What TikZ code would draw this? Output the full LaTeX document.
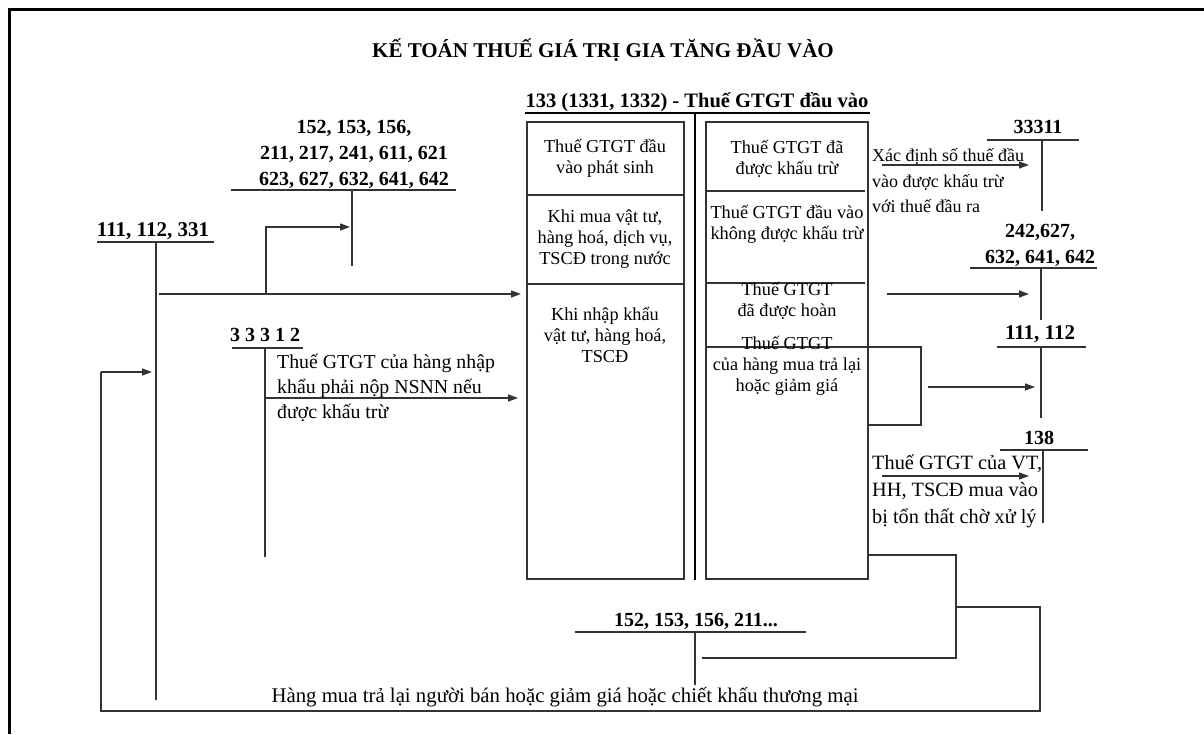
\documentclass[tikz,border=0pt]{standalone}
\usepackage{fontspec}
\setmainfont{Liberation Serif}
\usetikzlibrary{arrows.meta}
\begin{document}
\begin{tikzpicture}[x=1pt,y=-1pt,
  ln/.style={line width=1.3pt,draw=black!80},
  thick3/.style={line width=2.8pt,draw=black},
  arr/.style={ln,-{Triangle[length=10pt,width=7pt]}},
  acc/.style={font=\fontsize{20}{26}\selectfont\bfseries,inner sep=0pt,align=center},
  ttl/.style={font=\fontsize{21}{24}\selectfont\bfseries,inner sep=0pt},
  note/.style={font=\fontsize{18}{25.5}\selectfont,inner sep=0pt,align=left,anchor=west},
  btxt/.style={font=\fontsize{18.3}{21}\selectfont,inner sep=0pt,align=center}]
\useasboundingbox (0,0) rectangle (1204,734);
\fill[white] (0,0) rectangle (1204,734);
% frame
\draw[line width=3pt] (9,734) -- (9,9) -- (1204,9);
% title
\node[ttl] (title) at (603,50) {KẾ TOÁN THUẾ GIÁ TRỊ GIA TĂNG ĐẦU VÀO};
\node[ttl,font=\fontsize{20.5}{24}\selectfont\bfseries] (head) at (697,102) {133 (1331, 1332) - Thuế GTGT đầu vào};
\coordinate (hl) at (525,113); \coordinate (hr) at (870,113);
\draw[thick3] (hl) -- (hr);
\coordinate (ct) at (695,113); \coordinate (cb) at (695,580);
\draw[thick3] (ct) -- (cb);
% boxes
\draw[ln] (527,122) rectangle (684,579);
\draw[ln] (706,122) rectangle (868,579);
\draw[ln] (527,195) -- (684,195);
\draw[ln] (527,284) -- (684,284);
\draw[ln] (706,191) -- (865,191);
\draw[ln] (706,283) -- (865,283);
\draw[ln] (706,347) -- (868,347);
\node[btxt] (l1) at (605,158) {Thuế GTGT đầu\\vào phát sinh};
\node[btxt] (l2) at (605,239) {Khi mua vật tư,\\hàng hoá, dịch vụ,\\TSCĐ trong nước};
\node[btxt] (l3) at (605,335) {Khi nhập khẩu\\vật tư, hàng hoá,\\TSCĐ};
\node[btxt] (r1) at (787,159) {Thuế GTGT đã\\được khấu trừ};
\node[btxt] (r2) at (787,224) {Thuế GTGT đầu vào\\không được khấu trừ};
\node[btxt] (r3) at (787,301) {Thuế GTGT\\đã được hoàn};
\node[btxt] (r4) at (787,366) {Thuế GTGT\\của hàng mua trả lại\\hoặc giảm giá};
% account 111,112,331
\node[acc,font=\fontsize{21}{26}\selectfont\bfseries] (a111) at (153,231) {111, 112, 331};
\draw[ln] (97,242) -- (214,242);
\coordinate (s111t) at (156,242); \coordinate (s111b) at (156,700);
\draw[ln] (s111t) -- (s111b);
% account 152...642
\node[acc] (a152) at (354,154) {152, 153, 156,\\211, 217, 241, 611, 621\\623, 627, 632, 641, 642};
\draw[ln] (231,190) -- (456,190);
\coordinate (s152t) at (352,190); \coordinate (s152b) at (352,266);
\draw[ln] (s152t) -- (s152b);
% main arrows
\coordinate (m1) at (159,294); \coordinate (m2) at (521,294);
\draw[arr] (m1) -- (m2);
\coordinate (b1) at (266,293); \coordinate (b2) at (266,227); \coordinate (b3) at (350,227);
\draw[arr] (b1) -- (b2) -- (b3);
% account 33312
\node[acc] (a33312) at (265,335) {3 3 3 1 2};
\draw[ln] (232,348) -- (303,348);
\coordinate (s333t) at (265,348); \coordinate (s333b) at (265,557);
\draw[ln] (s333t) -- (s333b);
\node[note,font=\fontsize{19.8}{25}\selectfont] (n333) at (277,388) {Thuế GTGT của hàng nhập\\ khẩu phải nộp NSNN nếu\\ được khấu trừ};
\coordinate (i1) at (265,398); \coordinate (i2) at (518,398);
\draw[arr] (i1) -- (i2);
% right side 33311
\node[acc] (a33311) at (1038,127) {33311};
\draw[ln] (987,140) -- (1079,140);
\draw[ln] (1042,140) -- (1042,211);
\node[note] (n3311) at (872,181) {Xác định số thuế đầu\\vào được khấu trừ\\với thuế đầu ra};
\coordinate (x1) at (882,165); \coordinate (x2) at (1029,165);
\draw[arr] (x1) -- (x2);
% 242...
\node[acc] (a242) at (1040,245) {242,627,\\632, 641, 642};
\draw[ln] (970,268) -- (1097,268);
\draw[ln] (1041,268) -- (1041,320);
\coordinate (k1) at (887,294); \coordinate (k2) at (1029,294);
\draw[arr] (k1) -- (k2);
% 111,112
\node[acc,font=\fontsize{21}{26}\selectfont\bfseries] (a1112) at (1040,334) {111, 112};
\draw[ln] (997,347) -- (1086,347);
\draw[ln] (1041,347) -- (1041,418);
\draw[ln] (868,347) -- (921,347) -- (921,425) -- (868,425);
\coordinate (h1) at (928,387); \coordinate (h2) at (1035,387);
\draw[arr] (h1) -- (h2);
% 138
\node[acc] (a138) at (1039,438) {138};
\draw[ln] (1000,450) -- (1088,450);
\draw[ln] (1043,450) -- (1043,523);
\node[note,font=\fontsize{20.3}{27}\selectfont] (n138) at (872,491) {Thuế GTGT của VT,\\HH, TSCĐ mua vào\\bị tổn thất chờ xử lý};
\coordinate (t1) at (882,476); \coordinate (t2) at (1029,476);
\draw[arr] (t1) -- (t2);
% bottom account
\node[acc] (a152b) at (696,621) {152, 153, 156, 211...};
\draw[ln] (575,632) -- (806,632);
\draw[ln] (695,632) -- (695,685);
\draw[ln] (868,555) -- (956,555) -- (956,658) -- (702,658);
\draw[ln] (956,607) -- (1040,607) -- (1040,711) -- (101,711) -- (101,372);
\coordinate (rl1) at (101,372); \coordinate (rl2) at (152,372);
\draw[arr] (rl1) -- (rl2);
\node[font=\fontsize{20.8}{22}\selectfont,inner sep=0pt] (bt) at (565,697) {Hàng mua trả lại người bán hoặc giảm giá hoặc chiết khấu thương mại};
\end{tikzpicture}
\end{document}
